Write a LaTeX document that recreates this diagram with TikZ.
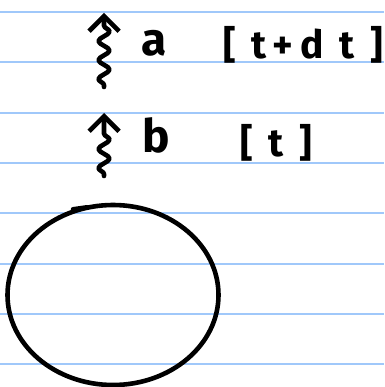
\documentclass[tikz,border=0pt]{standalone}
\usepackage{fontspec}
\setmainfont{Fira Sans}
\usepackage{tikz}
\usetikzlibrary{arrows.meta,positioning,shapes.geometric,decorations.pathmorphing}

\begin{document}
\begin{tikzpicture}[
  x=1pt,y=-1pt,
  rule/.style={draw={rgb,255:red,160;green,200;blue,250},line width=2pt},
  ink/.style={draw=black,line width=4.6pt,line cap=round,line join=round},
  wave/.style={ink,-{Straight Barb[length=15pt,width=30pt,line width=4.6pt]},
    decorate,decoration={snake,amplitude=5.5pt,segment length=19pt,
      pre length=2pt,post length=12pt}},
  var/.style={inner sep=0pt,anchor=base west,font=\fontsize{46}{48}\selectfont\bfseries},
  stamp/.style={inner sep=0pt,anchor=base west,
    font=\fontsize{39}{41}\selectfont\bfseries\addfontfeature{LetterSpace=40}}
]
  \useasboundingbox[fill=white] (0,0) rectangle (384,387);

  % ruled paper
  \foreach \i in {0,...,7}
    \path[rule] (0,{12+50.3*\i}) -- (384,{12+50.3*\i});

  % arrow ends
  \coordinate (abot) at (104,87);
  \coordinate (atop) at (104,13);
  \coordinate (bbot) at (104,176);
  \coordinate (btop) at (104,113);

  \draw[wave] (abot) -- (atop);
  \draw[wave] (bbot) -- (btop);

  \node[var] (a) at (141,56) {a};
  \node[stamp] (ta) at (223,59) {[t\,+\,dt]};
  \node[var] (b) at (142,153) {b};
  \node[stamp] (tb) at (240,157) {[t]};

  % the loop
  \node[ellipse,ink,minimum width=211pt,minimum height=180pt] (blob) at (113,295) {};
  \draw[ink] (blob.115) -- ++(14,-2);
\end{tikzpicture}
\end{document}
